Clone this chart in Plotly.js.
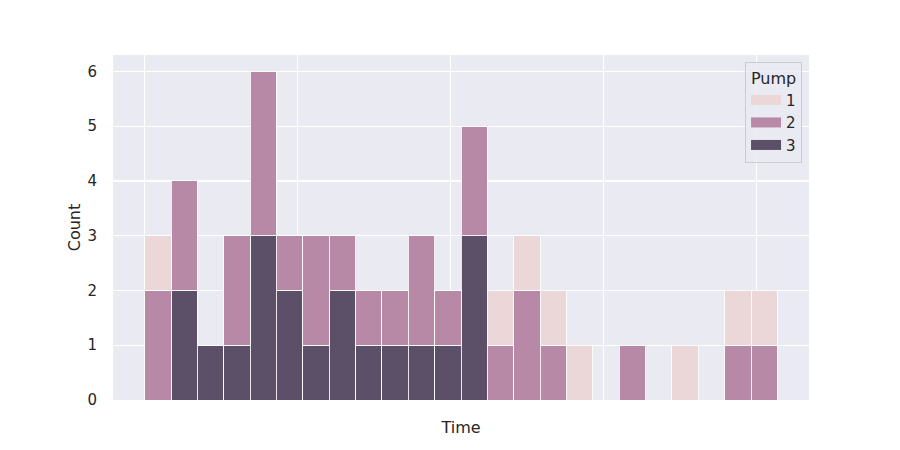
<!DOCTYPE html>
<html>
<head>
<meta charset="utf-8">
<script src="https://cdn.plot.ly/plotly-3.0.1.min.js"></script>
<style>html,body{margin:0;padding:0;background:#fff;}#chart{width:900px;height:450px;}</style>
</head>
<body>
<div id="chart"></div>
<script>
// Bin index (each bin one unit wide along Time); stacked counts per pump
const binStarts = [0,1,2,3,4,5,6,7,8,9,10,11,12,13,14,15,16,17,18,19,20,21,22,23];
const pump1 = [1,0,0,0,0,0,0,0,0,0,0,0,0,1,1,1,1,0,0,0,1,0,1,1];
const pump2 = [2,2,0,2,3,1,2,1,1,1,2,1,2,1,2,1,0,0,1,0,0,0,1,1];
const pump3 = [0,2,1,1,3,2,1,2,1,1,1,1,3,0,0,0,0,0,0,0,0,0,0,0];
const pumpNames = ['1','2','3'];
const pumpColors = ['rgb(235,215,216)','rgb(184,136,167)','rgb(92,80,105)'];

const series = [pump1, pump2, pump3];
const centers = binStarts.map(b => b + 0.5);
const traces = [];
// stacked from bottom: pump 3, pump 2, pump 1
[2, 1, 0].forEach(k => {
  traces.push({
    type: 'bar',
    name: pumpNames[k],
    x: centers,
    y: series[k],
    width: 1,
    marker: {color: pumpColors[k], line: {color: 'rgba(255,255,255,0.85)', width: 1}},
    showlegend: false,
    hoverinfo: 'skip'
  });
});
// legend entries (wide swatches like the reference)
[0, 1, 2].forEach(k => {
  traces.push({
    type: 'scatter', mode: 'lines',
    name: pumpNames[k],
    x: [null], y: [null],
    line: {color: pumpColors[k], width: 10},
    showlegend: true,
    hoverinfo: 'skip'
  });
});

const layout = {
  width: 900, height: 450,
  margin: {l: 113, r: 91, t: 55, b: 50},
  paper_bgcolor: '#ffffff',
  plot_bgcolor: '#eaeaf2',
  barmode: 'stack',
  bargap: 0,
  font: {family: 'DejaVu Sans', size: 15, color: '#262626'},
  xaxis: {
    range: [-1.2, 25.2],
    tick0: 0, dtick: 5.8,
    showticklabels: false,
    ticks: '',
    showgrid: true, gridcolor: '#ffffff', gridwidth: 1.2,
    zeroline: false, showline: false,
    automargin: false,
    title: {text: 'Time', standoff: 21, font: {size: 16, color: '#262626'}}
  },
  yaxis: {
    range: [0, 6.3],
    tick0: 0, dtick: 1,
    ticks: '',
    ticklabelstandoff: 15,
    showgrid: true, gridcolor: '#ffffff', gridwidth: 1.2,
    zeroline: false, showline: false,
    automargin: false,
    title: {text: 'Count', standoff: 2, font: {size: 16, color: '#262626'}}
  },
  legend: {
    x: 0.99, xanchor: 'right', y: 0.98, yanchor: 'top',
    bgcolor: 'rgba(234,234,242,0.8)',
    bordercolor: '#cccccc', borderwidth: 1,
    title: {text: 'Pump', side: 'top center', font: {size: 16}},
    font: {size: 15},
    traceorder: 'normal',
    itemwidth: 30,
    tracegroupgap: 0
  },
  showlegend: true
};

Plotly.newPlot('chart', traces, layout, {staticPlot: true, displayModeBar: false});
</script>
</body>
</html>
